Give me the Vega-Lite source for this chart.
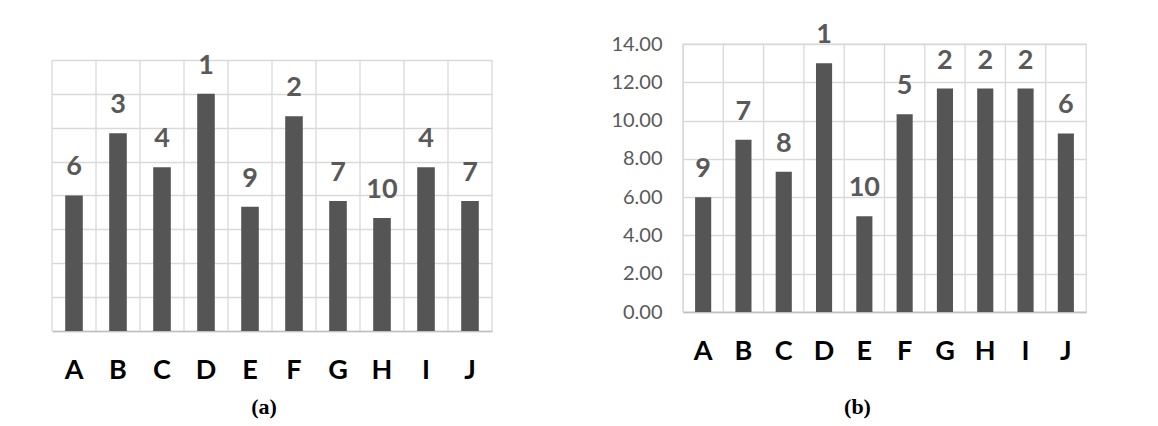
{
  "$schema": "https://vega.github.io/schema/vega-lite/v6.json",
  "padding": {"left": 51, "top": 20, "right": 5, "bottom": 0},
  "background": "white",
  "bounds": "flush",
  "spacing": 191,
  "datasets": {
    "a": [
      {"cat": "A", "value": 8.0, "rank": 6},
      {"cat": "B", "value": 11.67, "rank": 3},
      {"cat": "C", "value": 9.67, "rank": 4},
      {"cat": "D", "value": 14.0, "rank": 1},
      {"cat": "E", "value": 7.33, "rank": 9},
      {"cat": "F", "value": 12.67, "rank": 2},
      {"cat": "G", "value": 7.67, "rank": 7},
      {"cat": "H", "value": 6.67, "rank": 10},
      {"cat": "I", "value": 9.67, "rank": 4},
      {"cat": "J", "value": 7.67, "rank": 7}
    ],
    "b": [
      {"cat": "A", "value": 6.0, "rank": 9},
      {"cat": "B", "value": 9.0, "rank": 7},
      {"cat": "C", "value": 7.33, "rank": 8},
      {"cat": "D", "value": 13.0, "rank": 1},
      {"cat": "E", "value": 5.0, "rank": 10},
      {"cat": "F", "value": 10.33, "rank": 5},
      {"cat": "G", "value": 11.67, "rank": 2},
      {"cat": "H", "value": 11.67, "rank": 2},
      {"cat": "I", "value": 11.67, "rank": 2},
      {"cat": "J", "value": 9.33, "rank": 6}
    ]
  },
  "config": {
    "font": "Lato",
    "view": {"stroke": null},
    "axisX": {
      "labelAngle": 0, "labelFont": "Lato", "labelFontWeight": "bold", "labelFontSize": 27,
      "labelColor": "black", "ticks": false, "domainColor": "#bfbfbf", "domainWidth": 1.5,
      "grid": false, "title": null, "labelPadding": 26
    },
    "axisY": {"labelOverlap": false},
    "title": {"font": "Liberation Serif", "fontSize": 22, "fontWeight": "bold", "color": "black", "orient": "bottom", "frame": "group", "anchor": "middle", "baseline": "top"}
  },
  "hconcat": [
    {
      "width": 440,
      "height": 287,
      "title": {"text": "(a)", "offset": 14, "dx": -8},
      "data": {"name": "a"},
      "encoding": {
        "x": {"field": "cat", "type": "nominal", "scale": {"paddingInner": 0, "paddingOuter": 0}},
        "y": {"field": "value", "type": "quantitative",
          "scale": {"domain": [0, 16.94], "nice": false},
          "axis": {"values": [0, 2, 4, 6, 8, 10, 12, 14, 16], "labels": false, "ticks": false, "domain": false, "grid": true, "gridColor": "#d9d9d9", "gridWidth": 1.3, "title": null}}
      },
      "layer": [
        {
          "mark": {"type": "bar", "width": {"band": 0.4}, "color": "#555555"}
        },
        {
          "mark": {"type": "rule", "color": "#d9d9d9", "strokeWidth": 1.3},
          "encoding": {
            "x": {"field": "cat", "type": "nominal", "bandPosition": 0},
            "y": {"datum": 0, "type": "quantitative"},
            "y2": {"datum": 16}
          }
        },
        {
          "transform": [{"filter": "datum.cat == 'J'"}],
          "mark": {"type": "rule", "color": "#d9d9d9", "strokeWidth": 1.3},
          "encoding": {
            "x": {"field": "cat", "type": "nominal", "bandPosition": 1},
            "y": {"datum": 0, "type": "quantitative"},
            "y2": {"datum": 16}
          }
        },
        {
          "mark": {"type": "text", "baseline": "alphabetic", "dy": -20, "fontSize": 27, "fontWeight": "bold", "color": "#595959", "font": "Lato"},
          "encoding": {
            "text": {"field": "rank", "type": "nominal"}
          }
        }
      ]
    },
    {
      "width": 403,
      "height": 268,
      "title": {"text": "(b)", "offset": 33, "dx": -27},
      "data": {"name": "b"},
      "view": {"stroke": "#d9d9d9", "strokeWidth": 1.3},
      "encoding": {
        "x": {"field": "cat", "type": "nominal", "scale": {"paddingInner": 0, "paddingOuter": 0}},
        "y": {"field": "value", "type": "quantitative",
          "scale": {"domain": [0, 14], "nice": false},
          "axis": {"values": [0, 2, 4, 6, 8, 10, 12, 14], "format": ".2f", "labelFont": "Lato", "labelFontSize": 20, "labelColor": "#595959", "labelPadding": 21, "ticks": false, "domain": false, "grid": true, "gridColor": "#d9d9d9", "gridWidth": 1.3, "title": null}}
      },
      "layer": [
        {
          "mark": {"type": "bar", "width": {"band": 0.4}, "color": "#555555"}
        },
        {
          "mark": {"type": "rule", "color": "#d9d9d9", "strokeWidth": 1.3},
          "encoding": {
            "x": {"field": "cat", "type": "nominal", "bandPosition": 0},
            "y": {"datum": 0, "type": "quantitative"},
            "y2": {"datum": 14}
          }
        },
        {
          "mark": {"type": "text", "baseline": "alphabetic", "dy": -20, "fontSize": 27, "fontWeight": "bold", "color": "#595959", "font": "Lato"},
          "encoding": {
            "text": {"field": "rank", "type": "nominal"}
          }
        }
      ]
    }
  ]
}
